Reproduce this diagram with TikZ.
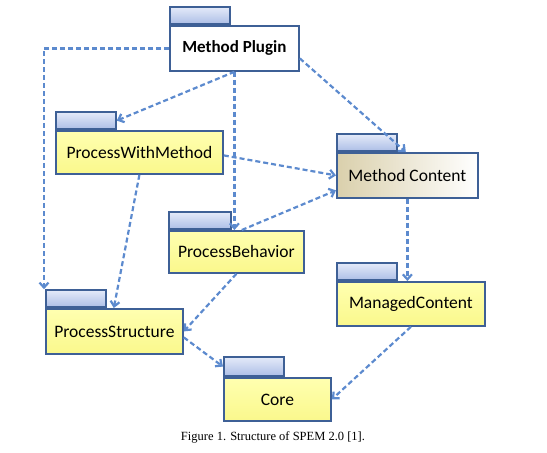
\documentclass[tikz,border=0pt]{standalone}
\usepackage{fontspec}
\newfontfamily\pkgfont{Carlito}
\newfontfamily\capfont{Liberation Serif}
\usetikzlibrary{arrows.meta}
\definecolor{pkgline}{RGB}{62,96,150}
\definecolor{deplink}{RGB}{92,138,206}
\tikzset{
  pkgbody/.style={draw=pkgline, line width=1.8pt, inner sep=0pt, anchor=north west,
    font=\pkgfont\fontsize{17.5}{20}\selectfont},
  yellowpkg/.style={top color={rgb,255:red,255;green,255;blue,176}, bottom color={rgb,255:red,250;green,248;blue,140}},
  whitepkg/.style={fill=white},
  tanpkg/.style={left color={rgb,255:red,218;green,208;blue,172}, right color=white},
  pkgtab/.style={draw=pkgline, line width=1.8pt, inner sep=0pt, anchor=south west,
    minimum width=60pt, minimum height=17pt,
    top color={rgb,255:red,228;green,234;blue,249}, bottom color={rgb,255:red,172;green,190;blue,230}},
  dep/.style={draw=deplink, line width=2.2pt, dash pattern=on 5pt off 3pt,
    -{Straight Barb[length=5pt,width=9pt]}}
}

\begin{document}
\begin{tikzpicture}[x=1pt, y=-1pt]
			%%%%% START %%%%%
			\useasboundingbox (0, 0) rectangle (547, 453);
			
			\node[pkgbody, whitepkg, minimum width=129pt, minimum height=45pt, font=\pkgfont\bfseries\fontsize{17}{20}\selectfont] (plugin) at (169, 25) {Method Plugin};
			\node[pkgtab] (plugintab) at (plugin.north west) {};
			
			\node[pkgbody, yellowpkg, minimum width=167pt, minimum height=43pt] (pwm) at (55, 130) {ProcessWithMethod};
			\node[pkgtab] (pwmtab) at (pwm.north west) {};
			
			\node[pkgbody, tanpkg, minimum width=141pt, minimum height=45pt] (mc) at (336, 152) {Method Content};
			\node[pkgtab] (mctab) at (mc.north west) {};
			
			\node[pkgbody, yellowpkg, minimum width=135pt, minimum height=42pt] (pb) at (168, 230) {ProcessBehavior};
			\node[pkgtab, minimum width=62pt] (pbtab) at (pb.north west) {};
			
			\node[pkgbody, yellowpkg, minimum width=137pt, minimum height=45pt] (ps) at (45, 308) {ProcessStructure};
			\node[pkgtab] (pstab) at (ps.north west) {};
			
			\node[pkgbody, yellowpkg, minimum width=148pt, minimum height=44pt] (mg) at (336, 281) {ManagedContent};
			\node[pkgtab] (mgtab) at (mg.north west) {};
			
			\node[pkgbody, yellowpkg, minimum width=107pt, minimum height=43pt] (core) at (223, 377) {Core};
			\node[pkgtab, minimum height=19pt] (coretab) at (core.north west) {};
			
			% dependencies
			\draw[dep] (plugin.west) -| ([xshift=-1pt]pstab.north west);
			\draw[dep] (plugin.south) -- (pwmtab.east);
			\draw[dep] (plugin.south) -- (plugin.south |- pb.north);
			\draw[dep] ([yshift=-10pt]plugin.east) -- ([xshift=8pt]mctab.south east);
			\draw[dep] ([yshift=-3pt]pwm.east) -- (mc.west);
			\draw[dep] ([xshift=10pt]pbtab.south east) -- ([yshift=-15pt]mc.west);
			\draw[dep] (pwm.south) -- ([xshift=7pt]pstab.south east);
			\draw[dep] (pb.south) -- (ps.east);
			\draw[dep] ([yshift=-6pt]ps.east) -- (coretab.west);
			\draw[dep] (mc.south) -- (mc.south |- mg.north);
			\draw[dep] (mg.south) -- (core.east);
			
			\node[font=\capfont\fontsize{12.5}{14}\selectfont] (caption) at (273, 437) {Figure 1. Structure of SPEM 2.0 [1].};
			%%%%% END %%%%%
		\end{tikzpicture}
\end{document}
